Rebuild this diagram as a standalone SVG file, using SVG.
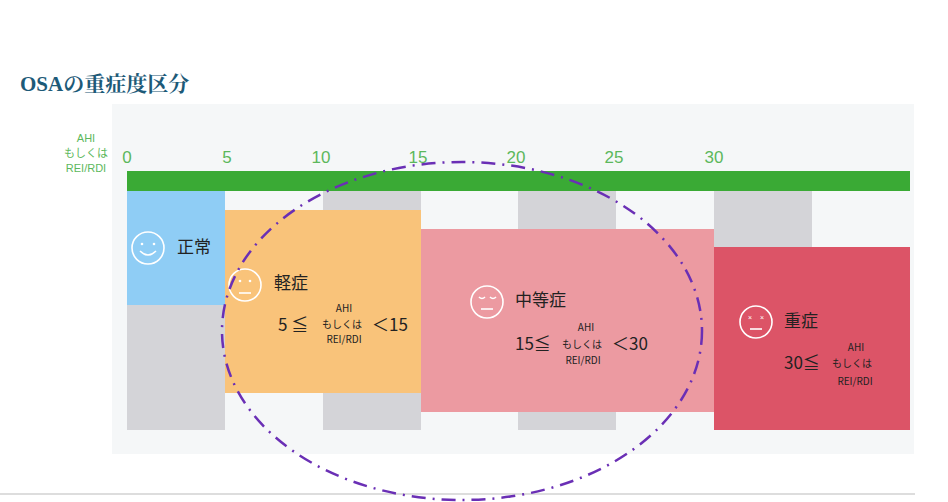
<svg xmlns="http://www.w3.org/2000/svg" width="948" height="502" viewBox="0 0 948 502">
<style>
.t{font-family:"Noto Sans CJK JP","Liberation Sans",sans-serif;fill:#222}
.g{font-family:"Liberation Sans","Noto Sans CJK JP",sans-serif;fill:#5cb85c}
.face{fill:none;stroke:#fff;stroke-width:1.6}
.gray{fill:#d4d4d8}
</style>
<rect width="948" height="502" fill="#fff"/>
<text x="20" y="91" font-family="Liberation Serif,Noto Serif CJK JP,Noto Sans CJK JP,serif" font-size="21" font-weight="bold" fill="#1d5a78">OSAの重症度区分</text>
<rect x="112" y="104" width="802" height="350" fill="#f5f7f8"/>
<line x1="0" y1="494" x2="915" y2="494" stroke="#bbb"/>
<g id="axis">
<text class="g" x="86" y="142" font-size="11" text-anchor="middle">AHI</text>
<text class="g" x="86" y="157" font-size="11" text-anchor="middle">もしくは</text>
<text class="g" x="86" y="172" font-size="11" text-anchor="middle">REI/RDI</text>
<g font-size="17" text-anchor="middle">
<text class="g" x="127" y="163">0</text><text class="g" x="227" y="163">5</text><text class="g" x="321" y="163">10</text><text class="g" x="418" y="163">15</text><text class="g" x="516" y="163">20</text><text class="g" x="614" y="163">25</text><text class="g" x="714" y="163">30</text>
</g>
<rect x="127" y="171" width="783" height="20" fill="#3aaa35"/>
</g>
<rect class="gray" x="127" y="305" width="98" height="125"/>
<rect class="gray" x="323" y="191" width="98" height="239"/>
<rect class="gray" x="518" y="191" width="98" height="239"/>
<rect class="gray" x="714" y="191" width="98" height="56"/>
<g id="normal">
<rect x="127" y="191" width="98" height="114" fill="#8fcdf5"/>
<circle class="face" cx="148" cy="248" r="16"/>
<circle cx="142" cy="244" r="1.3" fill="#fff"/><circle cx="154" cy="244" r="1.3" fill="#fff"/>
<path class="face" d="M140 251 Q148 259 156 251"/>
<text class="t" x="177" y="253" font-size="17">正常</text>
</g>
<g id="mild">
<rect x="225" y="210" width="196" height="183" fill="#f9c37a"/>
<circle class="face" cx="245" cy="285" r="16"/>
<circle cx="240" cy="281" r="1.3" fill="#fff"/><circle cx="250" cy="281" r="1.3" fill="#fff"/>
<line class="face" x1="239" y1="293" x2="251" y2="293"/>
<text class="t" x="274" y="289" font-size="17">軽症</text>
<text class="t" x="344" y="312" font-size="10" text-anchor="middle">AHI</text>
<text class="t" x="278" y="331" font-size="17">5 ≦</text>
<text class="t" x="342" y="328" font-size="10" text-anchor="middle">もしくは</text>
<text class="t" x="372" y="331" font-size="17">＜15</text>
<text class="t" x="344" y="343" font-size="10" text-anchor="middle">REI/RDI</text>
</g>
<g id="moderate">
<rect x="421" y="229" width="293" height="183" fill="#ec9aa1"/>
<circle class="face" cx="487" cy="302" r="16"/>
<path class="face" d="M479 297 Q482 300 485 297 M490 297 Q493 300 496 297"/>
<line class="face" x1="481" y1="309" x2="493" y2="309"/>
<text class="t" x="515" y="306" font-size="17">中等症</text>
<text class="t" x="586" y="331" font-size="10" text-anchor="middle">AHI</text>
<text class="t" x="515" y="350" font-size="17">15≦</text>
<text class="t" x="582" y="348" font-size="10" text-anchor="middle">もしくは</text>
<text class="t" x="612" y="350" font-size="17">＜30</text>
<text class="t" x="583" y="364" font-size="10" text-anchor="middle">REI/RDI</text>
</g>
<g id="severe">
<rect x="714" y="247" width="196" height="183" fill="#dc5467"/>
<circle class="face" cx="756" cy="322" r="16"/>
<text x="750" y="320" font-size="7" fill="#fff" font-family="Liberation Sans,sans-serif" text-anchor="middle">×</text>
<text x="762" y="320" font-size="7" fill="#fff" font-family="Liberation Sans,sans-serif" text-anchor="middle">×</text>
<line class="face" x1="750" y1="329" x2="762" y2="329"/>
<text class="t" x="784" y="327" font-size="17">重症</text>
<text class="t" x="856" y="351" font-size="10" text-anchor="middle">AHI</text>
<text class="t" x="784" y="369" font-size="17">30≦</text>
<text class="t" x="852" y="367" font-size="10" text-anchor="middle">もしくは</text>
<text class="t" x="855" y="385" font-size="10" text-anchor="middle">REI/RDI</text>
</g>
<g id="connectors">
<ellipse cx="462" cy="331" rx="240" ry="169" fill="none" stroke="#6a2fb5" stroke-width="2.5" stroke-dasharray="14 7 2 7"/>
</g>
</svg>
